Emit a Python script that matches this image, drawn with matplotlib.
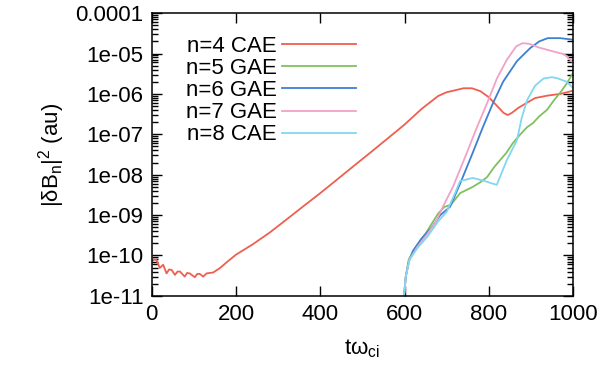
import matplotlib
matplotlib.use("Agg")
import matplotlib.pyplot as plt
from matplotlib.ticker import FixedLocator, FixedFormatter, LogLocator, NullFormatter

plt.rcParams['font.family'] = ['Liberation Sans', 'DejaVu Sans']

# n=4 CAE (red)
t_n4 = [0, 5, 11, 19, 27, 35, 41, 47, 55, 61, 67, 78, 84, 90, 102, 108, 114, 122, 130, 146,
        162, 180, 200, 240, 280, 320, 360, 400, 440, 480, 520, 560, 600, 640, 680, 700,
        720, 740, 760, 780, 800, 820, 835, 845, 855, 870, 890, 910, 940, 970, 1000]
b_n4 = [7.1e-11, 7.9e-11, 7.8e-11, 4.9e-11, 5.9e-11, 3.6e-11, 4.5e-11, 4.4e-11, 3.3e-11, 4.0e-11,
        4.0e-11, 3.0e-11, 3.7e-11, 3.6e-11, 2.9e-11, 3.5e-11, 3.5e-11, 3.0e-11, 3.6e-11, 3.8e-11,
        4.9e-11, 7.1e-11, 1.05e-10, 1.9e-10, 3.7e-10, 7.8e-10, 1.66e-9, 3.5e-9, 7.6e-9, 1.66e-8,
        3.6e-8, 7.9e-8, 1.74e-7, 4.2e-7, 8.9e-7, 1.1e-6, 1.23e-6, 1.38e-6, 1.38e-6, 1.17e-6,
        8.3e-7, 5.0e-7, 3.4e-7, 3.0e-7, 3.4e-7, 4.5e-7, 6.0e-7, 7.9e-7, 9.1e-7, 1.0e-6, 1.2e-6]

# n=5 GAE (green)
t_n5 = [598, 603, 610, 625, 650, 680, 695, 710, 732, 762, 780, 796, 812, 827, 842, 857,
        875, 891, 905, 920, 938, 955, 969, 985, 1000]
b_n5 = [8e-12, 3e-11, 8e-11, 1.5e-10, 3.5e-10, 1.1e-9, 1.6e-9, 1.8e-9, 3.5e-9, 5e-9, 6.5e-9,
        8.7e-9, 1.5e-8, 2.3e-8, 3.5e-8, 6e-8, 1e-7, 1.5e-7, 1.9e-7, 2.8e-7, 4e-7, 7e-7,
        1.05e-6, 1.8e-6, 3.3e-6]

# n=6 GAE (blue)
t_n6 = [598, 603, 610, 620, 640, 665, 685, 708, 732, 762, 786, 810, 834, 867, 898, 920,
        940, 970, 1000]
b_n6 = [8e-12, 3e-11, 7e-11, 1.3e-10, 2.6e-10, 5e-10, 1.0e-9, 1.6e-9, 6e-9, 3.5e-8, 1.5e-7,
        5.9e-7, 2.0e-6, 6.5e-6, 1.35e-5, 2.0e-5, 2.4e-5, 2.4e-5, 2.2e-5]

# n=7 GAE (pink)
t_n7 = [598, 603, 612, 630, 656, 675, 691, 715, 748, 772, 796, 820, 843, 865, 880, 895,
        920, 950, 980, 1000]
b_n7 = [8e-12, 3e-11, 8e-11, 1.6e-10, 3.6e-10, 7e-10, 1.6e-9, 5e-9, 3.5e-8, 1.5e-7, 5.9e-7,
        2.5e-6, 7e-6, 1.5e-5, 1.8e-5, 1.75e-5, 1.4e-5, 1.15e-5, 9.5e-6, 6e-6]

# n=8 CAE (cyan)
t_n8 = [598, 603, 612, 630, 655, 680, 700, 720, 732, 745, 762, 790, 803, 819, 843, 867,
        878, 891, 910, 930, 950, 965, 985, 1000]
b_n8 = [8e-12, 3e-11, 8e-11, 1.5e-10, 3e-10, 7e-10, 1.2e-9, 3.5e-9, 7e-9, 7.5e-9, 8.3e-9,
        7e-9, 6.3e-9, 5.6e-9, 2.3e-8, 7.2e-8, 2.5e-7, 7e-7, 1.6e-6, 2.4e-6, 2.6e-6, 2.4e-6,
        2.0e-6, 1.4e-6]

y_ticks = [1e-11, 1e-10, 1e-9, 1e-8, 1e-7, 1e-6, 1e-5, 1e-4]
y_tick_labels = ['1e-11', '1e-10', '1e-09', '1e-08', '1e-07', '1e-06', '1e-05', '0.0001']
x_ticks = [0, 200, 400, 600, 800, 1000]

fig = plt.figure(figsize=(6, 3.75), dpi=100)
ax = fig.add_axes([0.253, 0.211, 0.702, 0.754])

series = [
    (t_n4, b_n4, 'n=4 CAE', '#ef5f4f'),
    (t_n5, b_n5, 'n=5 GAE', '#80c060'),
    (t_n6, b_n6, 'n=6 GAE', '#3f7fcf'),
    (t_n7, b_n7, 'n=7 GAE', '#f2a2c8'),
    (t_n8, b_n8, 'n=8 CAE', '#80d8f0'),
]
for t, b, lab, col in series:
    ax.plot(t, b, color=col, lw=1.3, label=lab)

ax.set_yscale('log')
ax.set_xlim(0, 1000)
ax.set_ylim(1e-11, 1e-4)
ax.xaxis.set_major_locator(FixedLocator(x_ticks))
ax.yaxis.set_major_locator(FixedLocator(y_ticks))
ax.yaxis.set_major_formatter(FixedFormatter(y_tick_labels))
ax.yaxis.set_minor_locator(LogLocator(base=10, subs=range(2, 10), numticks=20))
ax.yaxis.set_minor_formatter(NullFormatter())
ax.tick_params(which='both', direction='in', top=True, right=True, labelsize=16, width=1)
ax.tick_params(which='major', length=7, pad=6)
ax.tick_params(which='minor', length=4)
for s in ax.spines.values():
    s.set_linewidth(1.1)

ax.set_xlabel('tω$_\\mathregular{ci}$', fontsize=16, labelpad=9)
ax.set_ylabel('|δB$_\\mathregular{n}$|$^\\mathregular{2}$ (au)', fontsize=16, labelpad=6)

ax.legend(loc='upper left', bbox_to_anchor=(186 / 600, 1 - 36 / 375),
          bbox_transform=fig.transFigure, frameon=False, markerfirst=False,
          fontsize=16, handlelength=3.3, handletextpad=0.25, labelspacing=0.05,
          borderpad=0, borderaxespad=0)

fig.savefig('out.png', dpi=100)
